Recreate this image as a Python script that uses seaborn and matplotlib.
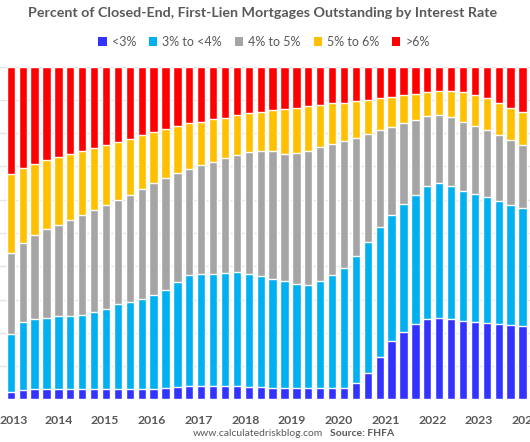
import numpy as np
import pandas as pd
import matplotlib
matplotlib.use("Agg")
import matplotlib.pyplot as plt
import seaborn as sns
from matplotlib.patches import Patch

# ---- data (cumulative tops of each band, % of mortgages), 2013Q1 .. 2023Q4 ----
quarters = [f"{y}Q{q}" for y in range(2013, 2024) for q in range(1, 5)]
top_lt3 = [2.3, 2.8, 3.0, 3.0, 3.0, 3.0, 3.0, 3.0, 3.0, 3.2, 3.2, 3.2, 3.2, 3.5, 3.8,
           4.0, 4.0, 4.0, 4.0, 4.0, 3.7, 3.7, 3.4, 3.4, 3.4, 3.4, 3.4, 3.4, 3.4,
           4.8, 8.0, 12.6, 17.5, 20.1, 22.6, 24.2, 24.4, 24.0, 23.5, 23.2, 22.8, 22.6, 22.2, 21.9]
top_3to4 = [19.6, 23.1, 24.0, 24.5, 24.9, 25.1, 25.4, 26.1, 27.3, 28.7, 29.4, 30.3, 31.4, 33.0, 35.4,
            37.4, 37.6, 37.6, 37.9, 38.4, 37.8, 37.2, 36.2, 35.6, 34.8, 34.4, 35.6, 37.4, 39.5,
            43.2, 47.4, 51.7, 55.5, 58.8, 61.5, 64.0, 64.9, 64.0, 62.6, 61.7, 60.9, 59.5, 58.4, 57.5]
top_4to5 = [43.9, 47.1, 49.4, 51.2, 52.4, 53.9, 55.3, 56.9, 58.3, 59.9, 61.5, 63.3, 64.9, 66.6, 67.9,
            69.3, 70.4, 71.4, 72.5, 73.6, 74.4, 74.6, 74.6, 73.8, 74.1, 74.8, 75.8, 76.7, 77.8,
            78.7, 79.9, 81.0, 81.9, 83.1, 84.0, 85.1, 85.5, 84.9, 83.5, 82.2, 81.0, 79.4, 78.0, 76.6]
top_5to6 = [67.6, 69.4, 70.7, 72.0, 72.8, 73.7, 74.7, 75.7, 76.6, 77.4, 78.2, 79.6, 80.4, 81.3, 82.1,
            83.0, 83.5, 84.2, 84.7, 85.5, 86.1, 86.5, 87.0, 87.2, 87.7, 88.1, 88.6, 89.0, 89.2,
            89.7, 90.1, 90.6, 90.8, 91.5, 91.8, 92.4, 92.6, 92.6, 92.4, 91.5, 90.5, 89.2, 87.7, 86.3]
top_gt6 = [100.0] * len(quarters)

series_names = ["<3%", "3% to <4%", "4% to 5%", "5% to 6%", ">6%"]
colors = ["#3333FF", "#00B0F0", "#A5A5A5", "#FFC000", "#FF0000"]
year_labels = [str(y) for y in range(2013, 2025)]

df = pd.DataFrame({"quarter": quarters, "<3%": top_lt3, "3% to <4%": top_3to4,
                   "4% to 5%": top_4to5, "5% to 6%": top_5to6, ">6%": top_gt6})

# ---- figure ----
sns.set_style("white")
plt.rcParams["font.family"] = ["Lato", "DejaVu Sans"]
txt = "#595959"

fig = plt.figure(figsize=(5.30, 4.42), dpi=100)
ax = fig.add_axes([0.0, 0.0966, 1.0, 0.7525])

for name, col in reversed(list(zip(series_names, colors))):
    sns.barplot(data=df, x="quarter", y=name, color=col, width=0.7,
                saturation=1, ax=ax, zorder=2)

ax.set_ylim(0, 100)
ax.set_xlim(-0.908, 43.63)
ax.set_yticks(np.arange(0, 101, 10))
ax.yaxis.grid(True, color="#E3E3E3", lw=1.0, zorder=0)
ax.set_axisbelow(True)
ax.tick_params(axis="y", left=False, labelleft=False)
for s in ax.spines.values():
    s.set_visible(False)
ax.set_xlabel("")
ax.set_ylabel("")

tick_pos = np.linspace(0.06, 43.29, len(year_labels))
tick_pos[0] = 0.22
ax.set_xticks(tick_pos)
ax.set_xticklabels(year_labels, fontsize=8.8, fontweight="bold", color=txt)
ax.tick_params(axis="x", bottom=False, pad=8)

fig.text(262.5 / 530, 1 - 13 / 442, "Percent of Closed-End, First-Lien Mortgages Outstanding by Interest Rate",
         ha="center", va="center", fontsize=10.25, fontweight="bold", color=txt)

handles = [Patch(facecolor=c, edgecolor="none") for c in colors]
fig.legend(handles, series_names, loc="center", bbox_to_anchor=(264 / 530, 1 - 42 / 442),
           ncol=5, frameon=False, fontsize=9, handlelength=0.65, handleheight=0.65,
           handletextpad=0.4, columnspacing=1.05, labelcolor=txt)

fig.text(323 / 530, 1 - 433 / 442, "www.calculatedriskblog.com", ha="right", va="center",
         fontsize=7.5, color=txt)
fig.text(330 / 530, 1 - 433 / 442, "Source: FHFA", ha="left", va="center",
         fontsize=7.5, fontweight="bold", color=txt)

fig.savefig("out.png", dpi=100)
